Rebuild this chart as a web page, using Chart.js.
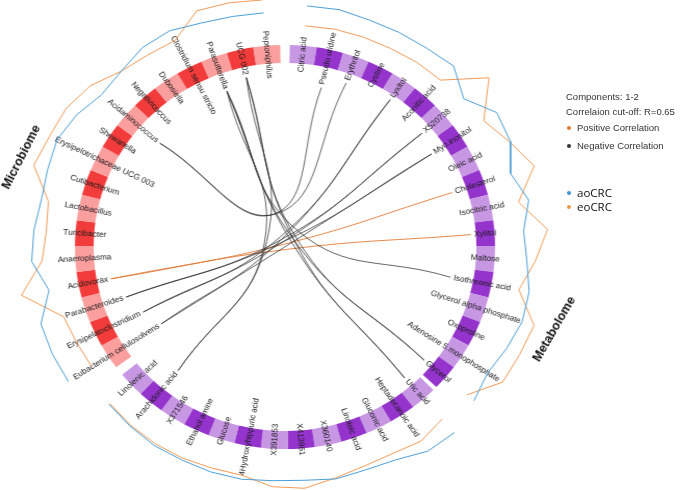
<!DOCTYPE html>
<html>
<head>
<meta charset="utf-8">
<script src="https://cdn.jsdelivr.net/npm/chart.js@4.4.0/dist/chart.umd.min.js"></script>
<style>
  html, body { margin: 0; padding: 0; background: #fff; overflow: hidden; }
  body { width: 685px; height: 490px; position: relative; font-family: "Liberation Sans", Arial, sans-serif; }
  #circos { position: absolute; left: 5px; top: -33.5px; width: 560px; height: 560px; transform: scaleX(1.04); }
  #circos canvas { position: absolute; left: 0; top: 0; }
  .block-title { position: absolute; font-weight: bold; font-size: 12.5px; color: #111; white-space: nowrap; }
  .legend { position: absolute; left: 566px; font-size: 9.5px; line-height: 12px; color: #333; white-space: nowrap; }
  .legend.big { font-family: "Open Sans", sans-serif; font-size: 11.5px; line-height: 14px; color: #111; }
  .dot { display: inline-block; width: 4px; height: 4px; border-radius: 50%; margin: 0 6px 1px 1px; vertical-align: middle; }
</style>
</head>
<body>
<div id="circos">
  <canvas id="ring" width="560" height="560"></canvas>
  <canvas id="links" width="560" height="560"></canvas>
</div>
<div class="block-title" style="left:21px;top:157px;transform:translate(-50%,-50%) rotate(-63deg)">Microbiome</div>
<div class="block-title" style="left:554px;top:329px;transform:translate(-50%,-50%) rotate(-60deg)">Metabolome</div>
<div class="legend" style="top:91px">Components: 1-2</div>
<div class="legend" style="top:106px">Correlaion cut-off: R=0.65</div>
<div class="legend" style="top:122px"><span class="dot" style="background:#e07a35"></span>Positive Correlation</div>
<div class="legend" style="top:140px"><span class="dot" style="background:#333"></span>Negative Correlation</div>
<div class="legend big" style="top:186px"><span class="dot" style="background:#3c95d0"></span>aoCRC</div>
<div class="legend big" style="top:200px"><span class="dot" style="background:#f0964a"></span>eoCRC</div>
<script>
// features, clockwise from the top gap
const metabolitesA = ['Citric acid', 'Pseudo uridine', 'Erythritol', 'Cystine', 'Lyxitol', 'Aconitic acid', 'X520738',
    'Myo.inositol', 'Oleic acid', 'Cholesterol', 'Isocitric acid', 'Xylitol', 'Maltose', 'Isothreonic acid',
    'Glycerol alpha phosphate', 'Oxoproline', 'Adenosine 5.monophosphate', 'Glycerol'];
const metabolitesB = ['Uric acid', 'Heptadecanoic acid', 'Gluconic acid', 'Linoleic acid', 'X360140', 'X413961', 'X391853',
    '4Hydroxyhippuric acid', 'Glucose', 'Ethanol amine', 'X371546', 'Arachidonic acid', 'Linolenic acid'];
const microbes = ['Eubacterium cellulosolvens', 'Erysipelatoclostridium', 'Parabacteroides', 'Acidovorax', 'Anaeroplasma',
    'Turicibacter', 'Lactobacillus', 'Cutibacterium', 'Erysipelotrichaceae UCG 003', 'Shewanella', 'Acidaminococcus',
    'Negativicoccus', 'Dubosiella', 'Clostridium sensu stricto', 'Parasutterella', 'UCG 002', 'Peptoniphilus'];

// scaled mean expression per group (outer lines)
const aoCRC_A = [0.4, 0.5, 0.3, 0.3, 0.3, 0.5, -1.1, 0.6, 0.3, -0.9, 0.1, -0.8, -0.5, 0.1, 0.2, -0.2, -0.6, 0.0];
const eoCRC_A = [-1.6, -1.5, -1.5, -1.5, -1.4, -1.4, 2.1, -0.9, 0.2, 1.5, -0.9, 1.5, 0.3, -0.9, 1.4, 1.2, 1.1, -0.9];
const aoCRC_B = [0.9, 0.8, 0.0, -0.2, -0.1, -0.4, -0.4, -0.2, -0.2, -0.3, -0.3, -0.5, -0.7];
const eoCRC_B = [-0.9, -0.4, -0.7, -0.6, -0.2, 0.4, 0.2, -0.6, -0.6, -0.5, -0.5, -0.6, -0.8];
const aoCRC_M = [1.0, 1.0, 0.9, -0.7, 0.6, 0.4, 0.1, 0.3, 0.6, 0.2, -0.5, -0.2, 0.4, 0.5, 0.0, -0.2, -0.3];
const eoCRC_M = [-1.7, -1.6, -1.4, 2.0, -0.4, -0.8, -0.6, 1.7, 1.4, 1.4, 0.9, -0.2, -0.5, -0.6, 1.3, 1.2, 1.0];

// correlations above the cut-off
const positiveLinks = [['Acidovorax', 'Cholesterol'], ['Acidovorax', 'Xylitol']];
const negativeLinks = [
    ['Parabacteroides', 'Myo.inositol'], ['Parabacteroides', 'X520738'],
    ['Erysipelatoclostridium', 'Lyxitol'], ['Erysipelatoclostridium', 'X520738'],
    ['Eubacterium cellulosolvens', 'Lyxitol'], ['Eubacterium cellulosolvens', 'Myo.inositol'],
    ['Acidaminococcus', 'Pseudo uridine'], ['Acidaminococcus', 'Erythritol'],
    ['Parasutterella', 'Glycerol'], ['Parasutterella', 'Uric acid'], ['Parasutterella', 'Isothreonic acid'],
    ['Parasutterella', 'Arachidonic acid'], ['UCG 002', 'Glycerol'], ['UCG 002', 'Uric acid'],
    ['UCG 002', 'Arachidonic acid']
];

// styling / geometry
const RING_OUT = 202, RING_IN = 184, RING_MID = (RING_OUT + RING_IN) / 2;
const LINE_BASE = 238, LINE_STEP = 10;
const LABEL_FONT = '8px "Liberation Sans", Arial, sans-serif';
const COLORS = {
    micro: ['#fa9e9e', '#f23c3c'],
    met: ['#c897e4', '#9434cc'],
    blue: '#4a9ed6', orange: '#f19a55',
    pos: '#e07a35', neg: 'rgba(40,40,40,0.8)'
};

// slots of the ring: features plus the three gaps
const segments = [];
metabolitesA.forEach((n, i) => segments.push({ name: n, color: COLORS.met[i % 2], size: 1 }));
segments.push({ gap: true, size: 0.15 });
metabolitesB.forEach((n, i) => segments.push({ name: n, color: COLORS.met[i % 2], size: 1 }));
segments.push({ gap: true, size: 0.36 });
microbes.forEach((n, i) => segments.push({ name: n, color: COLORS.micro[i % 2], size: 1 }));
segments.push({ gap: true, size: 0.36 });

const total = segments.reduce((s, g) => s + g.size, 0);
const degPer = 360 / total;
const rotation = segments[segments.length - 1].size / 2 * degPer;
const midAngle = {};
let cum = 0;
segments.forEach(s => {
    if (!s.gap) midAngle[s.name] = rotation + (cum + s.size / 2) * degPer;
    cum += s.size;
});

function polar(thetaDeg, r) {
    const t = thetaDeg * Math.PI / 180;
    return { x: r * Math.sin(t), y: r * Math.cos(t) };
}

// ring labels, centred on the ring and written along the radius
const ringLabels = {
    id: 'ringLabels',
    afterDatasetsDraw(chart) {
        const ctx = chart.ctx;
        const arcs = chart.getDatasetMeta(0).data;
        ctx.save();
        ctx.font = LABEL_FONT;
        ctx.fillStyle = '#1a1a1a';
        ctx.textAlign = 'center';
        ctx.textBaseline = 'middle';
        arcs.forEach((arc, k) => {
            const seg = segments[k];
            if (seg.gap) return;
            const p = arc.getProps(['x', 'y', 'startAngle', 'endAngle', 'innerRadius', 'outerRadius'], true);
            const a = (p.startAngle + p.endAngle) / 2;
            const r = (p.innerRadius + p.outerRadius) / 2;
            ctx.save();
            ctx.translate(p.x + r * Math.cos(a), p.y + r * Math.sin(a));
            ctx.rotate(Math.cos(a) > 0 ? a : a + Math.PI);
            ctx.fillText(seg.name, 0, 0);
            ctx.restore();
        });
        ctx.restore();
    }
};

new Chart(document.getElementById('ring'), {
    type: 'doughnut',
    data: {
        labels: segments.map(s => s.name || ''),
        datasets: [{
            data: segments.map(s => s.size),
            backgroundColor: segments.map(s => s.gap ? 'rgba(0,0,0,0)' : s.color),
            borderWidth: 0
        }]
    },
    options: {
        responsive: false,
        animation: false,
        events: [],
        rotation: rotation,
        radius: RING_OUT,
        cutout: (RING_IN / RING_OUT * 100) + '%',
        layout: { padding: 0 },
        plugins: { legend: { display: false }, tooltip: { enabled: false } }
    },
    plugins: [ringLabels]
});

// outer expression lines
const datasets = [];
function addLine(names, values, color) {
    datasets.push({
        data: names.map((n, i) => polar(midAngle[n], LINE_BASE + LINE_STEP * values[i])),
        borderColor: color,
        borderWidth: 1,
        pointRadius: 0,
        showLine: true,
        tension: 0
    });
}
addLine(metabolitesA, aoCRC_A, COLORS.blue);
addLine(metabolitesA, eoCRC_A, COLORS.orange);
addLine(metabolitesB, aoCRC_B, COLORS.blue);
addLine(metabolitesB, eoCRC_B, COLORS.orange);
addLine(microbes, aoCRC_M, COLORS.blue);
addLine(microbes, eoCRC_M, COLORS.orange);

// links start where the label ends
const measure = document.createElement('canvas').getContext('2d');
measure.font = LABEL_FONT;
function linkEnd(name) {
    return polar(midAngle[name], RING_MID - measure.measureText(name).width / 2 - 3);
}
function addLink(pair, color) {
    const a = linkEnd(pair[0]);
    const b = linkEnd(pair[1]);
    // middle of a bezier whose two handles sit at the centre
    const m = { x: (a.x + b.x) * 0.125, y: (a.y + b.y) * 0.125 };
    datasets.push({
        data: [a, m, b],
        borderColor: color,
        borderWidth: 0.9,
        pointRadius: 0,
        showLine: true,
        tension: 0.45
    });
}
negativeLinks.forEach(p => addLink(p, COLORS.neg));
positiveLinks.forEach(p => addLink(p, COLORS.pos));

new Chart(document.getElementById('links'), {
    type: 'scatter',
    data: { datasets: datasets },
    options: {
        responsive: false,
        animation: false,
        events: [],
        layout: { padding: 0 },
        scales: {
            x: { type: 'linear', min: -280, max: 280, display: false },
            y: { type: 'linear', min: -280, max: 280, display: false }
        },
        plugins: { legend: { display: false }, tooltip: { enabled: false } }
    }
});
</script>
</body>
</html>
